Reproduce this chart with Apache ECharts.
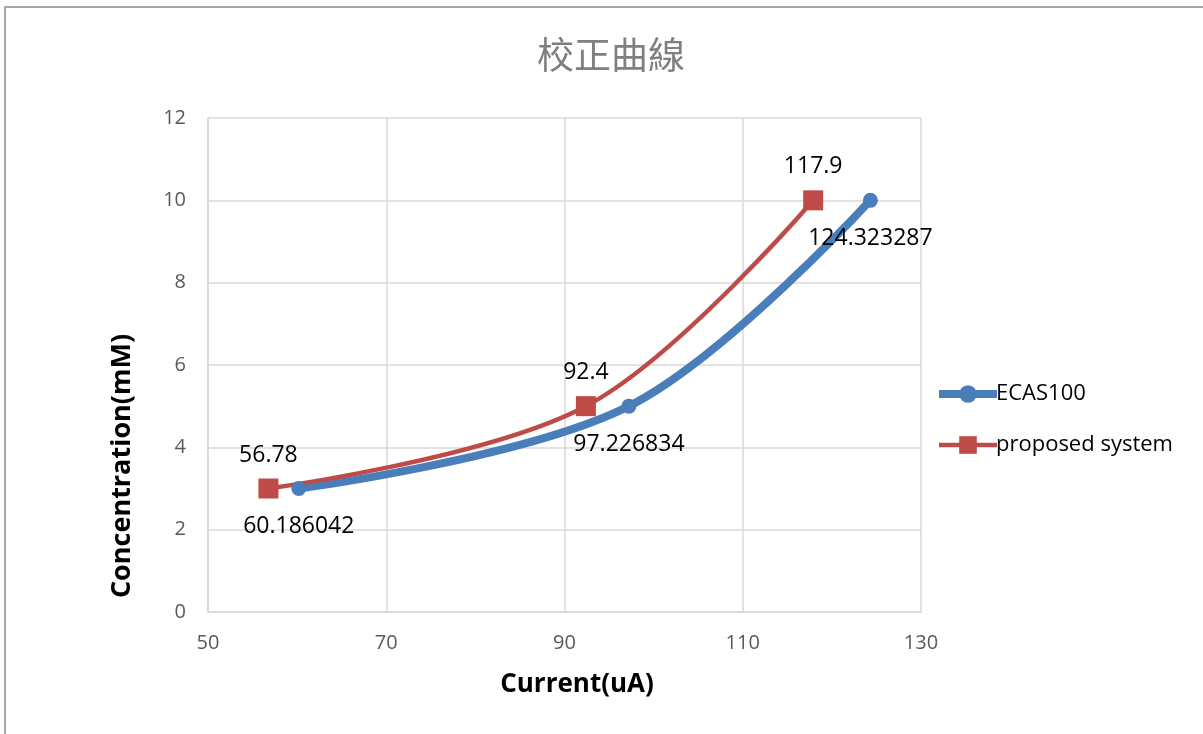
<!DOCTYPE html>
<html><head><meta charset="utf-8">
<script src="https://cdn.jsdelivr.net/npm/echarts@6/dist/echarts.min.js"></script>
<style>html,body{margin:0;padding:0;background:#fff}#c{width:1203px;height:734px}</style>
</head><body><div id="c"></div>
<script>
const titleText = '校正曲線';
const xName = 'Current(uA)';
const yName = 'Concentration(mM)';
const ecasX = [60.186042, 97.226834, 124.323287];
const ecasY = [3, 5, 10];
const propX = [56.78, 92.4, 117.9];
const propY = [3, 5, 10];
const seriesNames = ['ECAS100', 'proposed system'];

const chart = echarts.init(document.getElementById('c'));
const font = '"Open Sans", "Noto Sans", sans-serif';
chart.setOption({
  backgroundColor: '#fff',
  animation: false,
  graphic: [{type:'rect', shape:{x:5, y:7, width:1400, height:900}, style:{fill:'none', stroke:'#8a8a8a', lineWidth:1.5}, silent:true}],
  title: {text: titleText, left: 606, top: 31, textAlign:'center',
    textStyle:{fontFamily:'"Noto Sans CJK TC", sans-serif', fontWeight:'normal', fontSize:37, color:'#7f7f7f'}},
  grid: {left: 208, right: 1203-921, top: 118, bottom: 734-612, containLabel:false},
  legend: {orient:'vertical', left: 930, top: 378, itemWidth: 58, itemHeight: 22, itemGap: 29,
    lineStyle:{width:'inherit'},
    textStyle:{fontFamily:font, fontSize:22, color:'#000', padding:[0,0,0,-6]},
    data: seriesNames},
  xAxis: {type:'value', min:50, max:130, interval:20,
    name: xName, nameLocation:'middle', nameGap: 60,
    nameTextStyle:{fontFamily:font, fontWeight:'bold', fontSize:26, color:'#000', padding:[0,0,0,25]},
    axisLine:{show:true, lineStyle:{color:'#d9d9d9', width:1.5}},
    axisTick:{show:false},
    axisLabel:{fontFamily:font, fontSize:20, color:'#595959', margin:21},
    splitLine:{show:true, lineStyle:{color:'#d9d9d9', width:1.5}}},
  yAxis: {type:'value', min:0, max:12, interval:2,
    name: yName, nameLocation:'middle', nameGap: 72,
    nameTextStyle:{fontFamily:font, fontWeight:'bold', fontSize:27, color:'#000', padding:[0,202,0,0]},
    axisLine:{show:true, lineStyle:{color:'#d9d9d9', width:1.5}},
    axisTick:{show:false},
    axisLabel:{fontFamily:font, fontSize:20, color:'#595959', margin:22},
    splitLine:{show:true, lineStyle:{color:'#d9d9d9', width:1.5}}},
  series: [
    {name: seriesNames[0], type:'line', smooth:0.35,
     data: ecasX.map((x,i)=>[x, ecasY[i]]),
     symbol:'circle', symbolSize:15,
     lineStyle:{color:'#4a7ebb', width:8},
     itemStyle:{color:'#4a7ebb'},
     label:{show:true, position:'bottom', distance:19, fontFamily:font, fontSize:23, color:'#000',
       formatter: p => String(p.value[0])}},
    {name: seriesNames[1], type:'line', smooth:0.35,
     data: propX.map((x,i)=>[x, propY[i]]),
     symbol:'rect', symbolSize:20,
     lineStyle:{color:'#be4b48', width:4.5},
     itemStyle:{color:'#be4b48'},
     label:{show:true, position:'top', distance:12, fontFamily:font, fontSize:23, color:'#000',
       formatter: p => String(p.value[0])}}
  ]
});
</script></body></html>
